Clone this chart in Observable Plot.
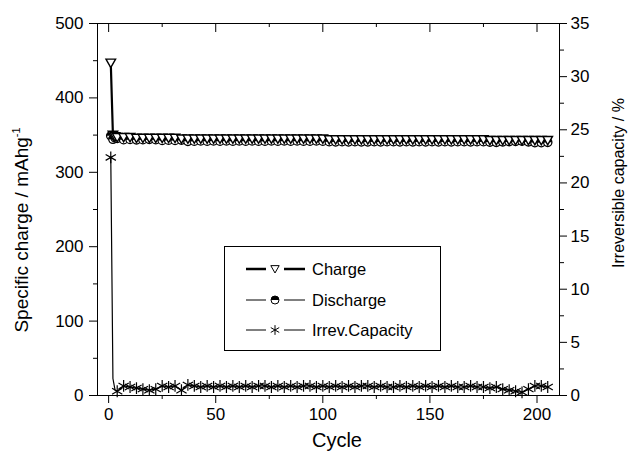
<!DOCTYPE html>
<html><head><meta charset="utf-8">
<script src="https://cdn.jsdelivr.net/npm/d3@7"></script>
<script src="https://cdn.jsdelivr.net/npm/@observablehq/plot@0.6"></script>
<style>body{margin:0;background:#fff;} svg{display:block;}</style>
</head><body><div id="chart"></div>
<script>
const cycles = [1,2,3,4,7,10,13,16,19,22,25,28,31,34,37,40,43,46,49,52,55,58,61,64,67,70,73,76,79,82,85,88,91,94,97,100,103,106,109,112,115,118,121,124,127,130,133,136,139,142,145,148,151,154,157,160,163,166,169,172,175,178,181,184,187,190,193,196,199,202,205];
const charge = [447,350,348,347,347,347,346,346,346,346,
  346,346,346,345,345,345,345,345,345,345,
  345,345,345,345,345,345,345,345,345,345,
  345,345,345,345,345,345,344,344,344,344,
  344,344,344,344,344,344,344,344,344,344,
  344,344,344,344,344,344,344,344,344,344,
  344,343,343,343,343,343,343,343,343,343,
  343];
const discharge = [349,344.4,346.3,345.6,343.9,344.2,343.6,343.9,344.3,343.9,
  342.9,343.2,342.9,343.3,341.6,341.9,342.2,341.9,342.2,341.9,
  342.2,341.9,342.2,341.9,342.2,341.9,341.9,342.2,341.9,342.2,
  341.9,342.2,341.9,341.9,342.2,341.9,341.2,340.9,341.2,340.9,
  341.2,340.9,340.9,341.2,340.9,341.2,341.2,340.9,341.2,340.9,
  341.2,340.9,341.2,340.9,341.2,340.9,341.2,341.2,340.9,341.2,
  341.2,340.6,340.3,340.9,341.3,341.6,342.0,340.9,339.9,339.9,
  340.3];
const irrev = [22.4,1.6,0.5,0.4,0.9,0.8,0.7,0.6,0.5,0.6,
  0.9,0.8,0.9,0.5,1.0,0.9,0.8,0.9,0.8,0.9,
  0.8,0.9,0.8,0.9,0.8,0.9,0.9,0.8,0.9,0.8,
  0.9,0.8,0.9,0.9,0.8,0.9,0.8,0.9,0.8,0.9,
  0.8,0.9,0.9,0.8,0.9,0.8,0.8,0.9,0.8,0.9,
  0.8,0.9,0.8,0.9,0.8,0.9,0.8,0.8,0.9,0.8,
  0.8,0.7,0.8,0.6,0.5,0.4,0.3,0.6,0.9,0.9,
  0.8];
const xTicks = [0,50,100,150,200];
const xMinor = [25,75,125,175];
const leftTicks = [0,100,200,300,400,500];
const leftMinor = [50,150,250,350,450];
const rightTicks = [0,5,10,15,20,25,30,35];
const rightMinor = [2.5,7.5,12.5,17.5,22.5,27.5,32.5];
const legendLabels = ["Charge","Discharge","Irrev.Capacity"];
const xTitle = "Cycle";
const yTitle = "Specific charge / mAhg";
const yTitleSup = "-1";
const y2Title = "Irreversible capacity / %";

const K = 500 / 35; // right-axis % -> left-axis units
const data = cycles.map((c, i) => ({cycle: c, charge: charge[i], discharge: discharge[i], irrev: irrev[i]}));

const triDown = {draw(ctx, size) {
  const r = Math.sqrt(size / Math.PI);
  ctx.moveTo(-r, -r * 0.8); ctx.lineTo(r, -r * 0.8); ctx.lineTo(0, r * 0.95); ctx.closePath();
}};
const halfTop = {draw(ctx, size) {
  const r = Math.sqrt(size / Math.PI);
  ctx.moveTo(r, 0); ctx.arc(0, 0, r, 0, Math.PI, true); ctx.closePath();
}};

const W = 633, H = 459, mL = 97, mR = 74, mT = 23, mB = 64;
const innerH = H - mT - mB;
const font = "'Liberation Sans', Arial, Helvetica, sans-serif";

const chart = Plot.plot({
  width: W, height: H,
  marginLeft: mL, marginRight: mR, marginTop: mT, marginBottom: mB,
  style: {fontFamily: font, fontSize: "17px", color: "black", background: "white"},
  x: {domain: [-5.2, 210.5]},
  y: {domain: [0, 500]},
  marks: [
    Plot.axisX(xTicks, {anchor: "bottom", tickSize: 8, tickPadding: 4, fontSize: 17, label: null}),
    Plot.axisX(xMinor, {anchor: "bottom", tickSize: 4, tickFormat: () => "", label: null}),
    Plot.axisY(leftTicks, {anchor: "left", tickSize: 8, tickPadding: 6, fontSize: 17, label: null}),
    Plot.axisY(leftMinor, {anchor: "left", tickSize: 4, tickFormat: () => "", label: null}),
    Plot.axisY(rightTicks.map(v => v * K), {anchor: "right", tickSize: 7, tickPadding: 4, fontSize: 17, label: null,
      tickFormat: d => String(Math.round(d / K))}),
    Plot.axisY(rightMinor.map(v => v * K), {anchor: "right", tickSize: 4, tickFormat: () => "", label: null}),
    Plot.tickX(xTicks, {x: d => d, insetBottom: innerH - 9, stroke: "black"}),
    Plot.tickX(xMinor, {x: d => d, insetBottom: innerH - 4, stroke: "black"}),
    Plot.frame({stroke: "black", strokeWidth: 1}),
    // irreversible capacity
    Plot.line(data, {x: "cycle", y: d => d.irrev * K, stroke: "black", strokeWidth: 1.2}),
    Plot.dot(data, {x: "cycle", y: d => d.irrev * K, symbol: "asterisk", r: 5.6, stroke: "black", strokeWidth: 1.2,
      filter: d => d.cycle === 1 || d.cycle >= 4}),
    // discharge
    Plot.line(data, {x: "cycle", y: "discharge", stroke: "black", strokeWidth: 1.2}),
    Plot.dot(data, {x: "cycle", y: "discharge", symbol: "circle", r: 4.2, fill: "white", stroke: "black", strokeWidth: 1.3}),
    Plot.dot(data, {x: "cycle", y: "discharge", symbol: halfTop, r: 4.2, fill: "black", stroke: "none"}),
    // charge
    Plot.line(data, {x: "cycle", y: "charge", stroke: "black", strokeWidth: 2.2}),
    Plot.dot(data, {x: "cycle", y: "charge", symbol: triDown, r: 4.8, fill: "white", stroke: "black", strokeWidth: 1.4})
  ]
});

const svg = d3.select(chart);
svg.append("text").attr("x", 337).attr("y", 447).attr("text-anchor", "middle")
  .attr("font-family", font).attr("font-size", 20).attr("fill", "black").text(xTitle);
const yt = svg.append("text").attr("transform", "translate(28,230) rotate(-90)").attr("text-anchor", "middle")
  .attr("font-family", font).attr("font-size", 19).attr("fill", "black");
yt.append("tspan").text(yTitle);
yt.append("tspan").attr("font-size", 11).attr("dy", "-0.7em").text(yTitleSup);
svg.append("text").attr("transform", "translate(624,183) rotate(-90)").attr("text-anchor", "middle")
  .attr("font-family", font).attr("font-size", 16).attr("fill", "black").text(y2Title);

const lg = svg.append("g");
lg.append("rect").attr("x", 224.5).attr("y", 246.5).attr("width", 216).attr("height", 104)
  .attr("fill", "white").attr("stroke", "black");
const rows = [269, 300, 330];
const sym = (type, size) => d3.symbol().type(type).size(size)();
rows.forEach((ry, i) => {
  const sw = i === 0 ? 2.5 : 1;
  lg.append("line").attr("x1", 246).attr("x2", 266).attr("y1", ry).attr("y2", ry)
    .attr("stroke", "black").attr("stroke-width", sw);
  lg.append("line").attr("x1", 284).attr("x2", 305).attr("y1", ry).attr("y2", ry)
    .attr("stroke", "black").attr("stroke-width", sw);
  const g = lg.append("g").attr("transform", `translate(275,${ry})`);
  if (i === 0) {
    g.append("path").attr("d", sym(triDown, Math.PI * 4.2 * 4.2)).attr("fill", "white").attr("stroke", "black");
  } else if (i === 1) {
    g.append("path").attr("d", sym(d3.symbolCircle, Math.PI * 16)).attr("fill", "white").attr("stroke", "black");
    g.append("path").attr("d", sym(halfTop, Math.PI * 16)).attr("fill", "black");
  } else {
    g.append("path").attr("d", sym(d3.symbolAsterisk, Math.PI * 4.6 * 4.6)).attr("fill", "none").attr("stroke", "black");
  }
  lg.append("text").attr("x", 312).attr("y", ry).attr("dy", "0.36em").attr("text-anchor", "start")
    .attr("font-family", font).attr("font-size", 16.5).attr("fill", "black").text(legendLabels[i]);
});

document.getElementById("chart").appendChild(chart);
</script>
</body></html>
